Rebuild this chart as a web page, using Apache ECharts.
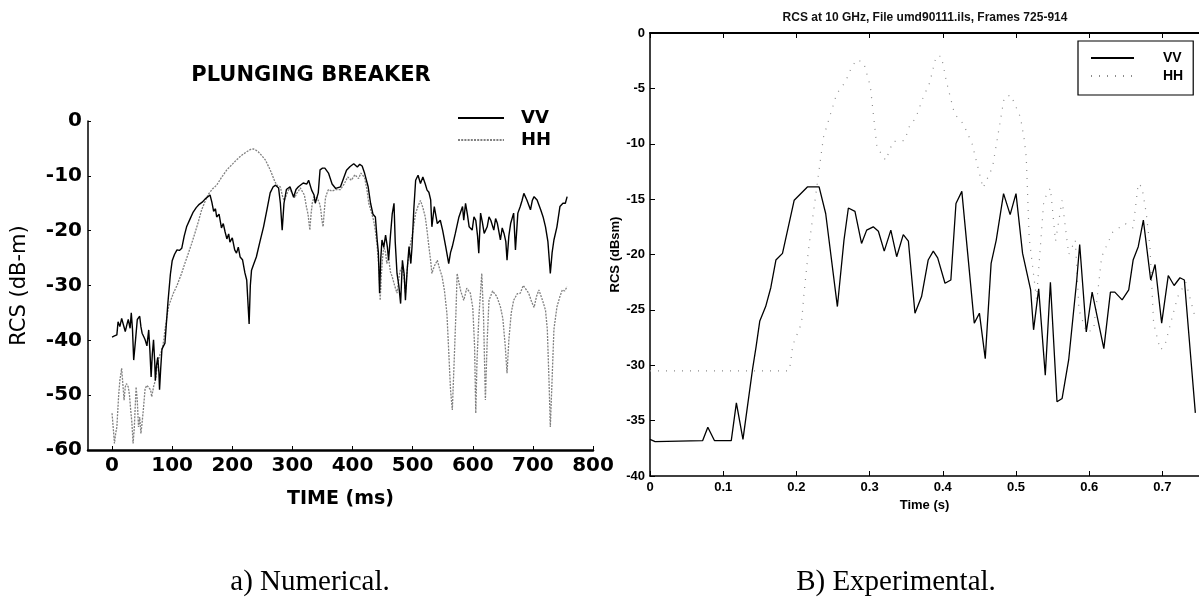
<!DOCTYPE html>
<html>
<head>
<meta charset="utf-8">
<script src="https://cdn.jsdelivr.net/npm/echarts@6/dist/echarts.min.js"></script>
<style>
  html, body { margin: 0; padding: 0; background: #fff; }
  #chart { width: 1199px; height: 614px; }
</style>
</head>
<body>
<div id="chart"></div>
<script>
// ---- Numerical run: time (ms) / RCS (dB-m) ----
const numVV = [
  [0,-39.4],[4,-39.2],[8,-39],[10,-36.6],[13,-37.5],[16,-36],[19,-37.2],[22,-38.4],[25,-37],[27,-36.2],
  [30,-37.8],[32,-35],[34,-38],[36,-43.6],[39,-40],[42,-36.2],[46,-35.6],[48,-37.5],[50,-38.7],[53,-39.4],
  [55,-39.9],[58,-41],[61,-38.1],[63,-42],[65,-46.7],[67,-42.5],[69,-39.9],[71,-44],[72,-47.3],[74,-44.5],
  [76,-43.1],[78,-46],[79,-49],[81,-45],[83,-41.6],[86,-41.9],[88,-40.5],[90,-37.5],[93,-33],[97,-28],
  [100,-25.5],[104,-24.3],[108,-23.5],[112,-23.6],[116,-23.2],[120,-21],[124,-19.3],[130,-17.8],[135,-16.6],
  [140,-15.8],[145,-15.2],[150,-14.8],[155,-14.2],[158,-13.9],[163,-13.5],[166,-14.8],[169,-16.5],[172,-16],
  [174,-17.5],[178,-17],[182,-19.5],[185,-18.7],[188,-20.2],[191,-21.5],[194,-20.6],[196,-22.1],[200,-21.3],
  [204,-23.5],[207,-24.1],[210,-23],[213,-24.8],[217,-25.3],[221,-27.7],[224,-29],[226,-33],[228,-37],
  [230,-30],[232,-27.2],[236,-26],[240,-24.8],[246,-22],[252,-19.3],[258,-16],[263,-13.1],[268,-12],
  [272,-11.7],[277,-12.2],[280,-15],[283,-19.9],[286,-15],[290,-12.5],[296,-12],[302,-13.9],[306,-12.5],
  [310,-12],[318,-11.3],[324,-11.5],[327,-10.8],[332,-12.6],[336,-13.5],[338,-15],[343,-13.1],[346,-8.9],
  [350,-8.6],[354,-8.6],[360,-9.5],[366,-11.5],[372,-12.3],[380,-12],[385,-10.5],[390,-9],[396,-8.3],
  [402,-7.8],[408,-8.4],[412,-7.9],[416,-8.2],[420,-9.5],[426,-12],[430,-15],[434,-17],[438,-17.5],
  [441,-21.7],[443,-24],[445,-31.4],[447,-25],[449,-21.7],[452,-23],[455,-20.8],[458,-23],[460,-25.4],
  [463,-21],[466,-17],[469,-15],[471,-22],[474,-27.8],[477,-30],[480,-33.3],[483,-25.4],[486,-28],
  [488,-32.7],[491,-27],[494,-22.9],[497,-26],[499,-22.9],[502,-16],[505,-10.8],[509,-9.9],[513,-11.4],
  [517,-10.2],[521,-11.5],[524,-12.6],[527,-13],[530,-14.4],[532,-19.3],[536,-15.6],[541,-18.7],[546,-18.1],
  [550,-20],[555,-22.9],[560,-26],[563,-24],[566,-22.9],[571,-20.5],[577,-17.5],[583,-15.6],[585,-18.1],
  [588,-15],[591,-17],[594,-19.3],[599,-19.9],[602,-17.5],[605,-18.1],[608,-21],[610,-24.1],[613,-16.8],
  [616,-18.5],[619,-20.5],[624,-19.3],[627,-17.5],[630,-18.1],[635,-19.9],[638,-17.8],[641,-18.7],
  [646,-21.7],[649,-19.5],[652,-20.5],[655,-22],[657,-25.4],[660,-21],[663,-18.7],[668,-16.8],[671,-23.5],
  [675,-16.8],[679,-15.6],[682,-14.5],[685,-13.2],[690,-14.4],[696,-16.2],[699,-14.5],[702,-13.8],
  [707,-14.4],[713,-16.2],[717,-17.5],[721,-19.3],[725,-22],[729,-27.8],[732,-24],[735,-21.7],[740,-19.3],
  [745,-15.6],[750,-15],[754,-15],[757,-13.8]
];
const numHH = [
  [0,-53.3],[2,-56],[4,-58.8],[6,-57],[8,-55.8],[11,-50],[13,-47.3],[16,-45.1],[18,-48],[20,-50.9],
  [22,-48.5],[24,-47.9],[27,-48.5],[29,-50],[31,-52.7],[33,-55],[35,-58.8],[37,-56],[40,-48.5],[42,-51],
  [44,-55.8],[46,-54],[48,-57],[50,-55],[52,-52.7],[55,-48.8],[58,-48.2],[61,-48.4],[64,-49],[66,-50.3],
  [69,-48.5],[72,-47.3],[75,-45],[77,-43.6],[80,-42.5],[83,-41.8],[86,-40],[88,-38.1],[91,-36],[94,-33.8],
  [97,-33.5],[102,-31.4],[108,-30],[116,-27.7],[121,-26],[127,-24.1],[132,-22.5],[138,-20.4],[144,-18.2],
  [149,-16.2],[155,-14.6],[160,-13.4],[167,-12.4],[174,-11.7],[182,-10.3],[191,-8.9],[199,-8],[207,-7.1],
  [215,-6.3],[224,-5.6],[230,-5.2],[235,-5.1],[239,-5.3],[243,-5.6],[249,-6.3],[255,-7.1],[259,-8],
  [263,-8.9],[267,-10],[271,-11.1],[275,-11.8],[280,-12],[283,-13.5],[286,-14.5],[289,-13.8],[292,-13],
  [295,-12.2],[298,-12.5],[301,-13.5],[304,-14],[307,-13.2],[310,-12.8],[313,-12.2],[316,-12],[320,-13.5],
  [323,-15.5],[326,-17],[329,-19.9],[331,-17],[333,-15],[336,-13.8],[338,-13.5],[341,-14],[343,-14.5],
  [345,-15],[347,-16],[349,-18],[351,-19.3],[353,-16.5],[355,-14],[358,-13],[360,-12.5],[366,-12.8],
  [372,-12.5],[380,-12.5],[386,-11.5],[392,-10.2],[398,-10.8],[404,-9.8],[410,-10.5],[414,-9.5],[420,-10.3],
  [424,-12.5],[427,-15],[431,-16.5],[435,-18.1],[438,-20],[441,-22.9],[444,-27],[446,-32.7],[448,-28],
  [450,-25],[452,-22.9],[455,-24],[457,-26],[460,-25],[463,-27.5],[466,-28.4],[470,-30],[474,-31.4],
  [478,-28],[480,-27],[483,-26.6],[486,-29],[488,-31.4],[491,-27],[494,-24.1],[497,-22],[499,-21.1],
  [502,-19],[505,-16.8],[509,-15.5],[513,-14.5],[517,-15.8],[521,-17.5],[524,-20],[527,-22.9],[530,-25.5],
  [532,-27.8],[536,-26.5],[541,-25.4],[545,-27],[549,-28.4],[553,-31],[557,-35.1],[560,-42],[563,-49],
  [566,-52.7],[569,-44],[572,-35],[574,-27.8],[577,-29.5],[580,-31],[585,-32.7],[590,-30.5],[596,-31.4],
  [600,-34],[603,-41],[605,-53.3],[607,-44],[610,-36],[615,-27.8],[618,-36],[621,-50.9],[624,-40],
  [627,-32.7],[633,-31],[640,-32],[646,-33.9],[650,-36],[654,-41],[657,-46],[660,-40],[664,-35],
  [668,-32.7],[674,-31.5],[679,-31.4],[684,-30],[687,-30.2],[693,-31.4],[698,-33],[702,-34],[706,-32],
  [710,-30.8],[716,-32.7],[721,-34.5],[724,-38],[727,-48],[729,-55.8],[732,-47],[735,-38],[740,-33.9],
  [745,-32],[749,-30.8],[753,-31],[757,-30.2]
];
const numTimeTicks = [0, 100, 200, 300, 400, 500, 600, 700, 800];

// ---- Experimental run: time (s) / RCS (dBsm) ----
const expVV = [
  [0,-36.7],[0.007,-36.9],[0.072,-36.8],[0.079,-35.6],[0.088,-36.8],[0.111,-36.8],[0.118,-33.4],[0.127,-36.7],
  [0.140,-30.4],[0.145,-28.3],[0.150,-26.0],[0.158,-24.7],[0.165,-23.0],[0.172,-20.5],[0.181,-19.9],
  [0.197,-15.1],[0.215,-13.9],[0.231,-13.9],[0.240,-16.3],[0.256,-24.7],[0.265,-18.7],[0.271,-15.8],
  [0.280,-16.1],[0.289,-19.0],[0.296,-17.8],[0.305,-17.5],[0.312,-17.9],[0.320,-19.7],[0.329,-17.8],
  [0.337,-20.2],[0.346,-18.2],[0.353,-18.8],[0.362,-25.3],[0.371,-23.8],[0.380,-20.5],[0.387,-19.7],
  [0.393,-20.3],[0.403,-22.6],[0.411,-22.3],[0.418,-15.4],[0.426,-14.3],[0.434,-19.9],[0.443,-26.2],
  [0.450,-25.3],[0.458,-29.4],[0.466,-20.8],[0.473,-18.7],[0.483,-14.5],[0.492,-16.4],[0.500,-14.5],
  [0.509,-19.9],[0.520,-23.2],[0.524,-26.8],[0.531,-23.1],[0.540,-30.9],[0.547,-22.5],[0.556,-33.3],
  [0.563,-33.0],[0.572,-29.5],[0.583,-22.3],[0.587,-19.1],[0.596,-27.0],[0.604,-23.4],[0.620,-28.5],
  [0.629,-23.4],[0.635,-23.4],[0.645,-24.1],[0.654,-23.2],[0.660,-20.5],[0.667,-19.3],[0.674,-16.9],
  [0.679,-19.6],[0.684,-22.3],[0.690,-20.9],[0.699,-26.2],[0.708,-21.9],[0.716,-22.8],[0.724,-22.1],
  [0.730,-22.3],[0.739,-29.5],[0.745,-34.3]
];
const expHH = [
  [0,-30.5],[0.19,-30.5],[0.192,-29.8],[0.195,-28.2],[0.207,-26.2],[0.210,-23.8],[0.216,-19.9],[0.218,-18.8],
  [0.237,-9.4],[0.255,-5.5],[0.267,-4.4],[0.276,-3.0],[0.283,-2.4],[0.292,-2.7],[0.301,-4.8],[0.310,-10.3],
  [0.322,-11.5],[0.332,-9.8],[0.348,-9.7],[0.355,-8.3],[0.363,-7.7],[0.372,-6],[0.382,-4.5],[0.391,-2.1],
  [0.398,-2.1],[0.405,-4.4],[0.416,-7.3],[0.428,-8.2],[0.44,-10],[0.455,-14],[0.468,-12.1],[0.484,-5.8],
  [0.493,-5.6],[0.506,-7.6],[0.511,-9.5],[0.514,-11.2],[0.518,-18.5],[0.528,-24],[0.538,-15.1],[0.547,-14.0],
  [0.554,-18.8],[0.563,-15.1],[0.572,-20],[0.581,-18.7],[0.586,-25],[0.596,-27],[0.606,-26.8],[0.617,-20.2],
  [0.632,-18],[0.649,-17.2],[0.660,-17.6],[0.667,-13.6],[0.672,-13.9],[0.678,-16.3],[0.683,-19.3],
  [0.688,-26.2],[0.697,-28.6],[0.703,-28.3],[0.712,-26],[0.721,-23.8],[0.732,-22.5],[0.744,-25.5]
];
const expTimeTicks = [0, 0.1, 0.2, 0.3, 0.4, 0.5, 0.6, 0.7];

const chart = echarts.init(document.getElementById('chart'), null, { renderer: 'canvas' });

const boldSans = { fontFamily: 'DejaVu Sans', fontWeight: 'bold', color: '#000' };
const plainSans = { fontFamily: 'Liberation Sans', color: '#000' };

chart.setOption({
  animation: false,
  backgroundColor: '#fff',
  grid: [
    { left: 88, top: 121, width: 505, height: 329 },
    { left: 650, top: 33, width: 553, height: 443 }
  ],
  xAxis: [
    {
      gridIndex: 0, type: 'value', min: -40, max: 800,
      axisLine: { show: true, onZero: false, lineStyle: { color: '#000', width: 2.5 } },
      axisTick: { show: true, inside: true, length: 4, customValues: numTimeTicks, lineStyle: { color: '#000' } },
      axisLabel: { customValues: numTimeTicks, margin: 6, fontSize: 20, ...boldSans },
      splitLine: { show: false },
      name: 'TIME (ms)', nameLocation: 'middle', nameGap: 40,
      nameTextStyle: { fontSize: 19, ...boldSans }
    },
    {
      gridIndex: 1, type: 'value', min: 0, max: 0.75, position: 'bottom',
      axisLine: { show: true, onZero: false, lineStyle: { color: '#000', width: 1.5 } },
      axisTick: { show: true, inside: true, length: 5, customValues: expTimeTicks, lineStyle: { color: '#000' } },
      axisLabel: { customValues: expTimeTicks, margin: 5, fontSize: 13, fontWeight: 'bold', ...plainSans },
      splitLine: { show: false },
      name: 'Time (s)', nameLocation: 'middle', nameGap: 20,
      nameTextStyle: { fontSize: 13, fontWeight: 'bold', ...plainSans }
    },
    {
      gridIndex: 1, type: 'value', min: 0, max: 0.75, position: 'top',
      axisLine: { show: true, onZero: false, lineStyle: { color: '#000', width: 2 } },
      axisTick: { show: true, inside: true, length: 5, customValues: expTimeTicks, lineStyle: { color: '#000' } },
      axisLabel: { show: false },
      splitLine: { show: false }
    }
  ],
  yAxis: [
    {
      gridIndex: 0, type: 'value', min: -60, max: 0, interval: 10,
      axisLine: { show: true, onZero: false, lineStyle: { color: '#000', width: 1.5 } },
      axisTick: { show: true, inside: true, length: 3, lineStyle: { color: '#000' } },
      axisLabel: { margin: 6, fontSize: 20, ...boldSans },
      splitLine: { show: false },
      name: 'RCS (dB-m)', nameLocation: 'middle', nameGap: 58, nameRotate: 90,
      nameTextStyle: { fontFamily: 'DejaVu Sans', fontSize: 21, color: '#000' }
    },
    {
      gridIndex: 1, type: 'value', min: -40, max: 0, interval: 5,
      axisLine: { show: true, onZero: false, lineStyle: { color: '#000', width: 1.5 } },
      axisTick: { show: true, inside: true, length: 5, lineStyle: { color: '#000' } },
      axisLabel: { margin: 5, fontSize: 13, fontWeight: 'bold', ...plainSans },
      splitLine: { show: false },
      name: 'RCS (dBsm)', nameLocation: 'middle', nameGap: 26, nameRotate: 90,
      nameTextStyle: { fontSize: 13, fontWeight: 'bold', ...plainSans }
    }
  ],
  legend: [
    {
      data: ['VV', 'HH'], orient: 'vertical', left: 457, top: 108, padding: 0,
      itemWidth: 46, itemHeight: 14, itemGap: 2, selectedMode: false,
      itemStyle: { opacity: 0 },
      textStyle: { fontSize: 18, lineHeight: 20, padding: [0, 0, 0, 12], ...boldSans }
    },
    {
      data: ['VV exp.', 'HH exp.'], orient: 'vertical', left: 1078, top: 41,
      padding: [10, 10, 12, 12], itemWidth: 43, itemHeight: 12, itemGap: 4, selectedMode: false,
      backgroundColor: '#fff', borderColor: '#000', borderWidth: 1.2,
      itemStyle: { opacity: 0 },
      formatter: name => name.split(' ')[0],
      textStyle: { fontSize: 14, lineHeight: 12, padding: [0, 0, 0, 24], fontWeight: 'bold', ...plainSans }
    }
  ],
  graphic: [
    { type: 'text', x: 311, y: 76, style: { text: 'PLUNGING BREAKER', align: 'center', verticalAlign: 'middle',
      font: 'bold 21px "DejaVu Sans"', fill: '#000' } },
    { type: 'text', x: 925, y: 18, style: { text: 'RCS at 10 GHz, File umd90111.ils, Frames 725-914', align: 'center',
      verticalAlign: 'middle', font: 'bold 12px "Liberation Sans"', fill: '#111' } },
    { type: 'text', x: 310, y: 582, style: { text: 'a) Numerical.', align: 'center', verticalAlign: 'middle',
      font: '29px "Liberation Serif"', fill: '#000' } },
    { type: 'text', x: 896, y: 582, style: { text: 'B) Experimental.', align: 'center', verticalAlign: 'middle',
      font: '29px "Liberation Serif"', fill: '#000' } }
  ],
  series: [
    { name: 'VV', type: 'line', xAxisIndex: 0, yAxisIndex: 0, data: numVV, symbol: 'none',
      lineStyle: { color: '#000', width: 1.4 }, itemStyle: { color: '#000' }, z: 3 },
    { name: 'HH', type: 'line', xAxisIndex: 0, yAxisIndex: 0, data: numHH, symbol: 'none',
      lineStyle: { color: '#808080', width: 1.3, type: [2, 1.2] }, itemStyle: { color: '#808080' }, z: 2 },
    { name: 'VV exp.', type: 'line', xAxisIndex: 1, yAxisIndex: 1, data: expVV, symbol: 'none',
      lineStyle: { color: '#000', width: 1.3 }, itemStyle: { color: '#000' }, z: 3 },
    { name: 'HH exp.', type: 'line', xAxisIndex: 1, yAxisIndex: 1, data: expHH, symbol: 'none',
      lineStyle: { color: '#8c8c8c', width: 1.2, type: [1, 7] }, itemStyle: { color: '#8c8c8c' }, z: 2 }
  ]
});
</script>
</body>
</html>
